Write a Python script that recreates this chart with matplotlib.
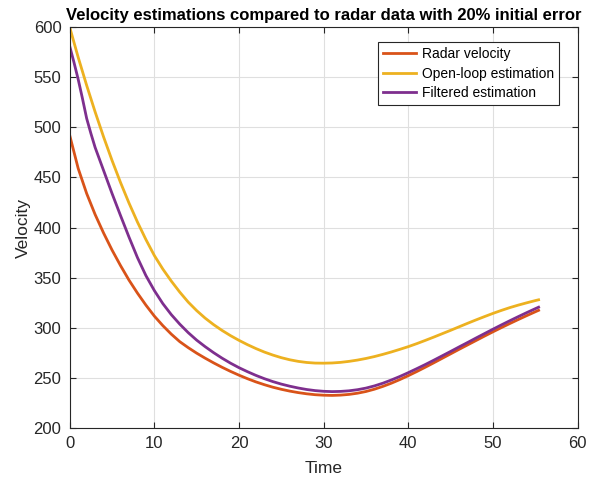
import numpy as np
import matplotlib
matplotlib.use("Agg")
import matplotlib.pyplot as plt

plt.rcParams['font.family'] = ['Liberation Sans', 'DejaVu Sans']

# radar velocity
t_radar = [0, 1, 2, 3, 4, 5, 6, 7, 8, 9, 10, 11, 12, 13, 14, 15, 16, 17, 18, 19, 20,
           21, 22, 23, 24, 25, 26, 27, 28, 29, 30, 31, 32, 33, 34, 35, 36, 37, 38, 39,
           40, 41, 42, 43, 44, 45, 46, 47, 48, 49, 50, 51, 52, 53, 54, 55, 55.4]
v_radar = [492, 459, 434, 413, 394.5, 377.5, 362, 347.5, 334.5, 322.5, 311.5, 302, 293.5,
           286, 280, 274.5, 269.5, 264.8, 260.4, 256.3, 252.5, 249, 245.8, 243, 240.5,
           238.4, 236.6, 235.1, 233.9, 233, 232.5, 232.3, 232.6, 233.3, 234.5, 236.2,
           238.5, 241.3, 244.5, 248.1, 252, 256.1, 260.4, 264.8, 269.3, 273.8, 278.3,
           282.7, 287.1, 291.5, 295.8, 300, 304.1, 308.1, 312, 315.8, 317.3]

# open-loop estimation
t_open = [0, 1, 2, 3, 4, 5, 6, 7, 8, 9, 10, 11, 12, 13, 14, 15, 16, 17, 18, 19, 20,
          21, 22, 23, 24, 25, 26, 27, 28, 29, 30, 31, 32, 33, 34, 35, 36, 37, 38, 39,
          40, 41, 42, 43, 44, 45, 46, 47, 48, 49, 50, 51, 52, 53, 54, 55, 55.4]
v_open = [600, 570, 542, 515.5, 490.5, 467, 445, 424.5, 405.5, 388, 372, 358.5, 346.5,
          335.5, 325.5, 317, 309.5, 303, 297.2, 292, 287.3, 283, 279.1, 275.6, 272.6,
          270, 267.9, 266.3, 265.2, 264.6, 264.5, 264.7, 265.3, 266.3, 267.6, 269.2,
          271.1, 273.3, 275.7, 278.3, 281, 284, 287.2, 290.5, 293.9, 297.3, 300.8,
          304.3, 307.7, 311, 314.2, 317.2, 320, 322.5, 324.8, 327, 327.8]

# filtered estimation
t_filt = [0, 0.5, 1, 1.5, 2, 2.5, 3, 4, 5, 6, 7, 8, 9, 10, 11, 12, 13, 14, 15, 16, 17,
          18, 19, 20, 21, 22, 23, 24, 25, 26, 27, 28, 29, 30, 31, 32, 33, 34, 35, 36,
          37, 38, 39, 40, 41, 42, 43, 44, 45, 46, 47, 48, 49, 50, 51, 52, 53, 54, 55, 55.4]
v_filt = [581, 565, 548, 529, 509, 494, 480, 457, 434, 412, 390.5, 370, 352, 337,
          324, 313, 303.5, 295, 287.5, 281, 275, 269.5, 264.5, 260, 256, 252.3, 249,
          246.1, 243.6, 241.5, 239.7, 238.2, 237.1, 236.4, 236.1, 236.3, 236.9, 238,
          239.6, 241.8, 244.5, 247.7, 251.2, 255, 259, 263.1, 267.4, 271.8, 276.2,
          280.7, 285.1, 289.6, 294, 298.4, 302.7, 306.9, 311, 315, 318.9, 320.4]

fig = plt.figure(figsize=(5.96, 4.79), dpi=100)
ax = fig.add_axes([0.117, 0.107, 0.852, 0.836])

ax.plot(t_radar, v_radar, color='#D95319', lw=2, label='Radar velocity')
ax.plot(t_open, v_open, color='#EDB120', lw=2, label='Open-loop estimation')
ax.plot(t_filt, v_filt, color='#7E2F8E', lw=2, label='Filtered estimation')

ax.set_xlim(0, 60)
ax.set_ylim(200, 600)
ax.set_xticks(np.arange(0, 61, 10))
ax.set_yticks(np.arange(200, 601, 50))
ax.grid(True, color='#DFDFDF', lw=0.8)
ax.set_axisbelow(True)
ax.tick_params(direction='in', top=True, right=True, length=4, labelsize=12,
               colors='#262626', pad=6)
for s in ax.spines.values():
    s.set_color('#262626')
    s.set_linewidth(0.8)

ax.set_xlabel('Time', fontsize=12.5, color='#262626', labelpad=7)
ax.set_ylabel('Velocity', fontsize=12.5, color='#262626', labelpad=2)
ax.set_title('Velocity estimations compared to radar data with 20% initial error',
             fontsize=12, fontweight='bold', pad=5)

leg = ax.legend(loc='upper right', bbox_to_anchor=(0.963, 0.963), fontsize=10,
                fancybox=False, framealpha=1, edgecolor='#262626',
                handlelength=2.4, borderpad=0.35, labelspacing=0.4, handletextpad=0.4,
                borderaxespad=0)
leg.get_frame().set_linewidth(0.8)

fig.savefig('out.png', dpi=100)
